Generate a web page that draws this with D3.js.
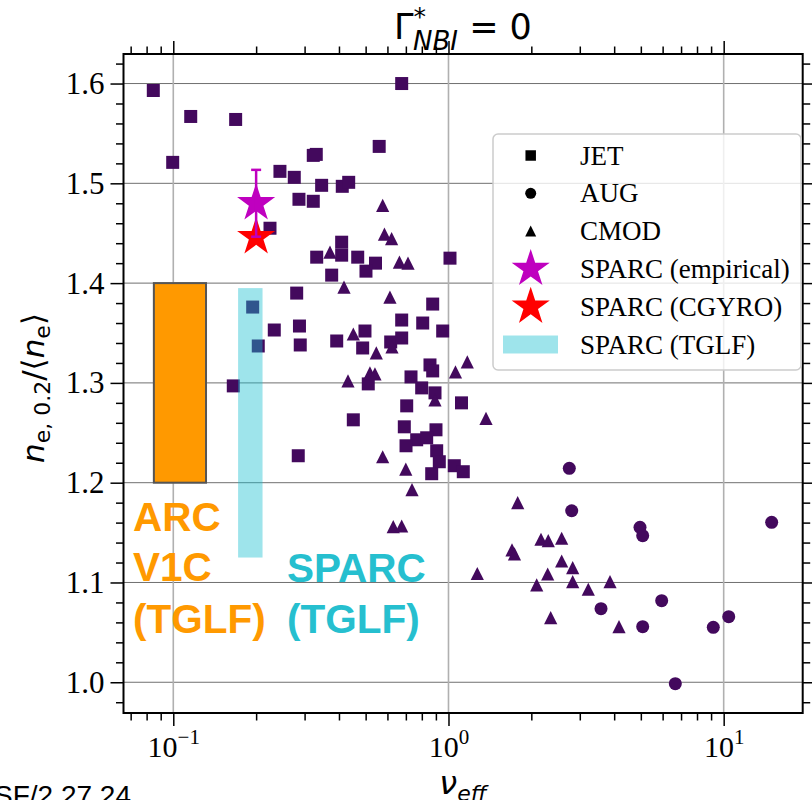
<!DOCTYPE html>
<html><head><meta charset="utf-8">
<script src="https://cdn.jsdelivr.net/npm/d3@7"></script>
<style>body{margin:0;background:#fff}svg{display:block}</style>
</head><body><svg id="c" width="812" height="800"></svg>
<script>
// ---- data ----
const jetX = [0.0846,0.1157,0.1685,0.0995,0.676,0.560,0.3226,0.3308,0.2441,0.2752,0.346,0.4112,0.4339,0.2862,0.3226,0.2246,0.332,0.4091,0.4091,0.4679,0.5429,0.5014,1.0127,0.3763,0.2808,0.1943,0.2328,0.2874,0.2893,0.2036,0.1652,0.3925,0.4972,0.4877,0.6166,0.676,0.676,0.806,0.8762,0.9526,0.8566,0.8762,0.7308,0.5111,0.7991,0.8933,0.705,0.451,0.691,0.9007,0.7664,0.8332,0.701,0.906,0.926,1.0498,0.869,0.2845,1.1148,1.1318];
const jetY = [1.593,1.567,1.564,1.521,1.600,1.537,1.528,1.529,1.512,1.506,1.498,1.497,1.501,1.484,1.482,1.455,1.426,1.441,1.428,1.426,1.420,1.412,1.425,1.408,1.390,1.376,1.353,1.357,1.338,1.337,1.297,1.342,1.352,1.335,1.341,1.345,1.363,1.360,1.379,1.352,1.318,1.312,1.306,1.299,1.295,1.290,1.277,1.263,1.256,1.253,1.243,1.245,1.237,1.232,1.221,1.217,1.209,1.227,1.280,1.211];
const cmodX = [0.5766,0.5853,0.6214,0.371,0.6634,0.7127,0.4172,0.6128,0.451,0.5466,0.6232,0.5184,0.5405,0.4313,1.0602,1.1704,0.8933,1.3689,0.5766,0.6997,0.737,0.6299,0.676,1.7846,1.7011,1.7371,1.2726,2.1684,2.3046,2.5781,2.5781,2.8274,2.2935,2.0921,2.8274,3.2211,3.8637,2.3518,4.165];
const cmodY = [1.478,1.449,1.4445,1.431,1.421,1.420,1.396,1.386,1.349,1.330,1.336,1.310,1.309,1.302,1.311,1.321,1.283,1.2645,1.226,1.2135,1.193,1.156,1.1566,1.180,1.1326,1.1286,1.109,1.1433,1.142,1.1443,1.1215,1.1148,1.1085,1.0975,1.1008,1.0932,1.1008,1.0647,1.0557];
const augX = [2.748,2.804,4.965,5.078,14.94,5.953,3.583,5.078,9.167,10.43,6.672];
const augY = [1.2144,1.1719,1.1553,1.1469,1.1603,1.0818,1.0737,1.0557,1.0551,1.0657,0.9986];
const sparcX = [0.2];
const sparcEmpY = [1.48];
const sparcEmpErr = [0.0335];
const sparcCgyroY = [1.446];
const arcTglfX = [0.085, 0.1315];
const arcTglfY = [1.2, 1.4];
const sparcTglfX = [0.172, 0.211];
const sparcTglfY = [1.125, 1.395];
const yMajor = [1.0,1.1,1.2,1.3,1.4,1.5,1.6];
const xMajor = [0.1,1,10];
const xMajorExp = ["\u22121","0","1"];
const legendLabels = ["JET","AUG","CMOD","SPARC (empirical)","SPARC (CGYRO)","SPARC (TGLF)"];

// ---- layout ----
const L=123.5, R=802.7, T=54, B=713;
const x = d3.scaleLog().domain([0.06593,19.37]).range([L,R]);
const y = d3.scaleLinear().domain([0.9692,1.6296]).range([B,T]);
const svg = d3.select("#c");
const PURPLE = "#43095d";
const SERIF = "'Liberation Serif','Times New Roman',serif";
const SANS = "'DejaVu Sans',sans-serif";

// minor ticks
const yMinor = d3.range(49,82).map(i=>i/50).filter(v=>Math.abs(v*10-Math.round(v*10))>1e-6);
const xMinor = [];
[0.01,0.1,1,10].forEach(d=>{for(let k=2;k<10;k++){const v=k*d; if(v>0.06593 && v<19.37) xMinor.push(v);}});

// grid
const g = svg.append("g");
g.selectAll(".hg").data(yMajor).join("line")
 .attr("x1",L).attr("x2",R).attr("y1",d=>y(d)).attr("y2",d=>y(d))
 .attr("stroke","#707070").attr("stroke-width",1);
g.selectAll(".vg").data(xMajor).join("line")
 .attr("y1",T).attr("y2",B).attr("x1",d=>x(d)).attr("x2",d=>x(d))
 .attr("stroke","#b0b0b0").attr("stroke-width",1.6);

// markers
const sq = d3.symbol(d3.symbolSquare, 169)();
const ci = d3.symbol(d3.symbolCircle, 133)();
const tri = "M0,-6.6L6.6,6.6L-6.6,6.6Z";
svg.append("g").selectAll("path").data(d3.range(jetX.length)).join("path")
 .attr("d",sq).attr("transform",i=>`translate(${x(jetX[i])},${y(jetY[i])})`).attr("fill",PURPLE);
svg.append("g").selectAll("path").data(d3.range(augX.length)).join("path")
 .attr("d",ci).attr("transform",i=>`translate(${x(augX[i])},${y(augY[i])})`).attr("fill",PURPLE);
svg.append("g").selectAll("path").data(d3.range(cmodX.length)).join("path")
 .attr("d",tri).attr("transform",i=>`translate(${x(cmodX[i])},${y(cmodY[i])})`).attr("fill",PURPLE);

// TGLF bands
svg.append("rect").attr("x",x(sparcTglfX[0])).attr("width",x(sparcTglfX[1])-x(sparcTglfX[0]))
 .attr("y",y(sparcTglfY[1])).attr("height",y(sparcTglfY[0])-y(sparcTglfY[1]))
 .attr("fill","#17becf").attr("fill-opacity",0.42);
svg.append("rect").attr("x",x(arcTglfX[0])).attr("width",x(arcTglfX[1])-x(arcTglfX[0]))
 .attr("y",y(arcTglfY[1])).attr("height",y(arcTglfY[0])-y(arcTglfY[1]))
 .attr("fill","#ff9900").attr("stroke","#555").attr("stroke-width",2);

// stars
const star = d3.symbol(d3.symbolStar, 450)();
svg.append("path").attr("d",star).attr("transform",`translate(${x(sparcX[0])},${y(sparcCgyroY[0])})`).attr("fill","#ff0000");
svg.append("path").attr("d",star).attr("transform",`translate(${x(sparcX[0])},${y(sparcEmpY[0])})`).attr("fill","#bf00bf");
const ex = x(sparcX[0]);
const eTop = y(sparcEmpY[0]+sparcEmpErr[0]), eBot = y(sparcEmpY[0]-sparcEmpErr[0]);
svg.append("line").attr("x1",ex).attr("x2",ex).attr("y1",eTop).attr("y2",eBot).attr("stroke","#bf00bf").attr("stroke-width",2.5);
[eTop,eBot].forEach(v=>svg.append("line").attr("x1",ex-5).attr("x2",ex+5).attr("y1",v).attr("y2",v).attr("stroke","#bf00bf").attr("stroke-width",2.5));

// annotation texts
const ann = svg.append("g").attr("font-family","'Liberation Sans',Arial,sans-serif").attr("font-weight","bold").attr("font-size",40.5);
[["ARC",531],["V1C",581],["(TGLF)",633]].forEach(([t,b])=>ann.append("text").attr("x",133).attr("y",b).attr("fill","#ff9900").text(t));
[["SPARC",582],["(TGLF)",633]].forEach(([t,b])=>ann.append("text").attr("x",287).attr("y",b).attr("fill","#26bfcf").text(t));

// axes
function styleAxis(sel){ sel.select(".domain").remove(); sel.selectAll(".tick line").attr("stroke","#000").attr("stroke-width",1.5); }
const yl = svg.append("g").attr("transform",`translate(${L},0)`).call(d3.axisLeft(y).tickValues(yMajor).tickSize(13).tickPadding(6).tickFormat(d3.format(".1f")));
styleAxis(yl); yl.selectAll("text").attr("font-family",SERIF).attr("font-size",31).attr("fill","#000");
styleAxis(svg.append("g").attr("transform",`translate(${L},0)`).call(d3.axisLeft(y).tickValues(yMinor).tickSize(7.5).tickFormat("")));
styleAxis(svg.append("g").attr("transform",`translate(${R},0)`).call(d3.axisRight(y).tickValues(yMajor).tickSize(13).tickFormat("")));
styleAxis(svg.append("g").attr("transform",`translate(${R},0)`).call(d3.axisRight(y).tickValues(yMinor).tickSize(7.5).tickFormat("")));
const xb = svg.append("g").attr("transform",`translate(0,${B})`).call(d3.axisBottom(x).tickValues(xMajor).tickSize(13).tickFormat(""));
styleAxis(xb);
xb.selectAll(".tick").append("text").attr("y",44).attr("text-anchor","middle").attr("font-family",SERIF).attr("fill","#000").attr("font-size",30)
 .each(function(d,i){ const t=d3.select(this); t.append("tspan").text("10"); t.append("tspan").attr("dy",-13).attr("font-size",21).text(xMajorExp[i]); });
styleAxis(svg.append("g").attr("transform",`translate(0,${B})`).call(d3.axisBottom(x).tickValues(xMinor).tickSize(7.5).tickFormat("")));
styleAxis(svg.append("g").attr("transform",`translate(0,${T})`).call(d3.axisTop(x).tickValues(xMajor).tickSize(13).tickFormat("")));
styleAxis(svg.append("g").attr("transform",`translate(0,${T})`).call(d3.axisTop(x).tickValues(xMinor).tickSize(7.5).tickFormat("")));

// frame
svg.append("rect").attr("x",L).attr("y",T).attr("width",R-L).attr("height",B-T).attr("fill","none").attr("stroke","#000").attr("stroke-width",2);

// legend
const lg = svg.append("g");
lg.append("rect").attr("x",493).attr("y",134).attr("width",308).attr("height",236).attr("rx",5)
 .attr("fill","#fff").attr("fill-opacity",0.8).attr("stroke","#cccccc").attr("stroke-width",1.5);
const rowY = i => 155.5 + i*37.8;
const lmx = 530.7;
lg.append("path").attr("d",d3.symbol(d3.symbolSquare,110)()).attr("transform",`translate(${lmx},${rowY(0)})`).attr("fill","#000");
lg.append("path").attr("d",d3.symbol(d3.symbolCircle,95)()).attr("transform",`translate(${lmx},${rowY(1)})`).attr("fill","#000");
lg.append("path").attr("d","M0,-5.5L5.5,5.5L-5.5,5.5Z").attr("transform",`translate(${lmx},${rowY(2)})`).attr("fill","#000");
lg.append("path").attr("d",star).attr("transform",`translate(${lmx},${rowY(3)})`).attr("fill","#bf00bf");
lg.append("path").attr("d",star).attr("transform",`translate(${lmx},${rowY(4)})`).attr("fill","#ff0000");
lg.append("rect").attr("x",503).attr("y",rowY(5)-9).attr("width",55).attr("height",18).attr("fill","#17becf").attr("fill-opacity",0.42);
lg.selectAll("text").data(legendLabels).join("text").attr("x",580).attr("y",(d,i)=>rowY(i)+9)
 .attr("font-family",SERIF).attr("font-size",27).attr("fill","#000").text(d=>d);

// title
const tt = svg.append("text").attr("x",463).attr("y",39).attr("text-anchor","middle").attr("font-family",SANS).attr("font-size",35).attr("fill","#000");
tt.append("tspan").text("\u0393");
tt.append("tspan").attr("dy",-14).attr("font-size",25).text("*");
tt.append("tspan").attr("dx",-13).attr("dy",25).attr("font-size",26).attr("font-style","italic").text("NBI");
tt.append("tspan").attr("dy",-11).text(" = 0");

// y label
const ylab = svg.append("text").attr("transform","translate(44,388) rotate(-90)").attr("text-anchor","middle").attr("font-family",SANS).attr("font-size",31).attr("fill","#000");
ylab.append("tspan").attr("font-style","italic").text("n");
ylab.append("tspan").attr("font-size",22).attr("dy",6).text("e, 0.2");
ylab.append("tspan").attr("dy",-6).text("/\u27e8");
ylab.append("tspan").attr("font-style","italic").text("n");
ylab.append("tspan").attr("font-size",22).attr("dy",6).text("e");
ylab.append("tspan").attr("dy",-6).text("\u27e9");

// x label
const xlab = svg.append("text").attr("x",463).attr("y",794).attr("text-anchor","middle").attr("font-family",SANS).attr("font-size",32).attr("fill","#000");
xlab.append("tspan").attr("font-style","italic").text("\u03bd");
xlab.append("tspan").attr("font-style","italic").attr("font-size",22).attr("dy",7).text("eff");

// footer
svg.append("text").attr("x",-6).attr("y",805).attr("font-family","'Liberation Sans',Arial,sans-serif").attr("font-size",28).attr("fill","#000").text("SF/2.27.24");
</script></body></html>
